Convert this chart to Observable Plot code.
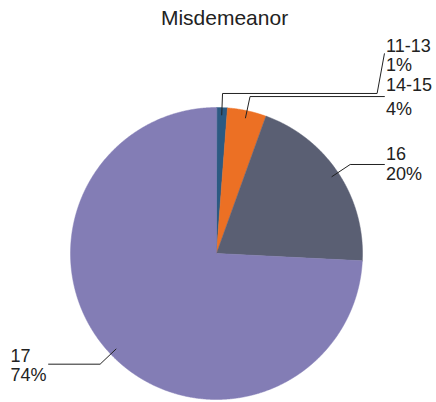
<!DOCTYPE html>
<html>
<head>
<meta charset="utf-8">
<script src="https://cdn.jsdelivr.net/npm/d3@7"></script>
<script src="https://cdn.jsdelivr.net/npm/@observablehq/plot@0.6"></script>
<style>
  html, body { margin: 0; padding: 0; background: #fff; }
  svg { display: block; }
</style>
</head>
<body>
<div id="chart"></div>
<script>
// ---- data ----
const chartTitle = "Misdemeanor";
const categories = ["11-13", "14-15", "16", "17"];
const shares = [1.2, 4.3, 20.3, 74.2];
const percentLabels = ["1%", "4%", "20%", "74%"];
const sliceColors = ["#2c5a82", "#ec7024", "#5a5f73", "#837db5"];

// ---- layout (in pie-radius units, origin at pie centre, y up) ----
const labelLayout = [
  {x: 1.161, y1: 1.379, y2: 1.253},
  {x: 1.161, y1: 1.112, y2: 0.952},
  {x: 1.161, y1: 0.637, y2: 0.505},
  {x: -1.411, y1: -0.740, y2: -0.870}
];
const leaderLayout = [
  {levelY: 1.096, kneeX: 1.10, endY: 1.368},
  {levelY: 1.075},
  {},
  {}
];
const leaderStartR = 0.95, leaderElbowR = 1.1, leaderEndX = 1.15;
const titlePos = {x: 0.055, y: 1.568};

// ---- geometry from the data ----
const arcs = d3.pie().sort(null).value(d => d)(shares);
const polar = (r, a) => [r * Math.sin(a), r * Math.cos(a)];

const wedges = arcs.map((a, i) => {
  const n = Math.max(2, Math.ceil((a.endAngle - a.startAngle) / (Math.PI / 720)));
  const ring = [[0, 0]];
  for (let k = 0; k <= n; ++k) ring.push(polar(1, a.startAngle + (a.endAngle - a.startAngle) * k / n));
  ring.push([0, 0]);
  return {type: "Feature", properties: {color: sliceColors[i]}, geometry: {type: "Polygon", coordinates: [ring]}};
});

const leaders = arcs.map((a, i) => {
  const mid = (a.startAngle + a.endAngle) / 2;
  const side = Math.sin(mid) >= 0 ? 1 : -1;
  const L = leaderLayout[i];
  const pts = [polar(leaderStartR, mid)];
  let elbow;
  if (L.levelY != null) {
    const r = L.levelY / Math.cos(mid);
    elbow = [r * Math.sin(mid), L.levelY];
  } else {
    elbow = polar(leaderElbowR, mid);
  }
  pts.push(elbow);
  if (L.kneeX != null) {
    pts.push([side * L.kneeX, elbow[1]]);
    pts.push([side * leaderEndX, L.endY]);
  } else {
    pts.push([side * leaderEndX, elbow[1]]);
  }
  return {type: "Feature", properties: {}, geometry: {type: "LineString", coordinates: pts}};
});

const catRows = categories.map((c, i) => ({text: c, x: labelLayout[i].x, y: labelLayout[i].y1}));
const pctRows = percentLabels.map((p, i) => ({text: p, x: labelLayout[i].x, y: labelLayout[i].y2}));

const font = "'Liberation Sans', Arial, Helvetica, sans-serif";

const chart = Plot.plot({
  width: 436,
  height: 402,
  marginLeft: 70,
  marginRight: 74,
  marginTop: 107,
  marginBottom: 3,
  projection: {
    type: "reflect-y",
    domain: {type: "MultiPoint", coordinates: [[-1, -1], [1, 1]]},
    clip: false
  },
  color: {type: "identity"},
  style: {fontFamily: font, background: "#fff", color: "#222"},
  marks: [
    Plot.geo(wedges, {fill: d => d.properties.color, stroke: d => d.properties.color, strokeWidth: 0.5}),
    Plot.geo(leaders, {fill: "none", stroke: "#222", strokeWidth: 1}),
    Plot.text(catRows, {x: "x", y: "y", text: "text", textAnchor: "start", lineAnchor: "bottom", fontSize: 18, fill: "#222"}),
    Plot.text(pctRows, {x: "x", y: "y", text: "text", textAnchor: "start", lineAnchor: "bottom", fontSize: 18, fill: "#222"}),
    Plot.text([chartTitle], {x: () => titlePos.x, y: () => titlePos.y, text: d => d, textAnchor: "middle", lineAnchor: "bottom", fontSize: 21, fill: "#222"})
  ]
});
document.getElementById("chart").appendChild(chart);
</script>
</body>
</html>
